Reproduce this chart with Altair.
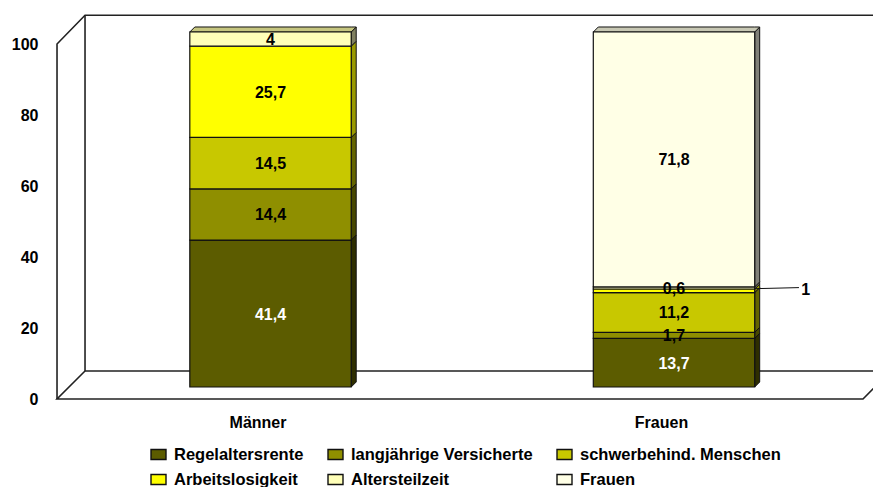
import altair as alt
import pandas as pd

# ---- chart values ----
categories = ["Männer", "Frauen"]
series = ["Regelaltersrente", "langjährige Versicherte", "schwerbehind. Menschen",
          "Arbeitslosigkeit", "Altersteilzeit", "Frauen"]
maenner = [41.4, 14.4, 14.5, 25.7, 4, None]
frauen = [13.7, 1.7, 11.2, 1, 0.6, 71.8]
face_colors = ["#5c5c00", "#8f8f00", "#c8c800", "#ffff00", "#ffffb8", "#ffffe6"]
side_colors = ["#2e2e00", "#474700", "#646400", "#999900", "#808060", "#808078"]
top_colors = ["#4a4a00", "#727200", "#a0a000", "#cccc00", "#c6c680", "#c8c8b4"]
label_colors = ["white", "black", "black", "black", "black", "black"]
tick_values = [0, 20, 40, 60, 80, 100]

FONT = "Liberation Sans"
SIZE = 16

# depth of the pseudo-3D projection, in scale units
px_x = 403.5   # pixels per category
px_y = 3.55    # pixels per value unit
BAR_HALF = 0.2
DX, DV = 5 / px_x, 5 / px_y

bars, sides, tops, labels = [], [], [], []
for ci, vals in enumerate([maenner, frauen]):
    lo = 0.0
    last = None
    for si, v in enumerate(vals):
        if v is None:
            continue
        hi = lo + v
        left, right = ci - BAR_HALF, ci + BAR_HALF
        bars.append(dict(cat=categories[ci], s=series[si], x=left, x2=right, y=lo, y2=hi))
        key = f"{ci}-{si}"
        sides.append(dict(k=key, c=side_colors[si], x=right, y=lo, y2=hi))
        sides.append(dict(k=key, c=side_colors[si], x=right + DX, y=lo + DV, y2=hi + DV))
        labels.append(dict(x=ci, y=(lo + hi) / 2, t=str(v).replace(".", ","), c=label_colors[si], small=0))
        lo, last = hi, si
    key = f"t{ci}"
    c = top_colors[last]
    for x, y, y2 in [(left, lo, lo), (left + DX, lo, lo + DV), (right, lo, lo + DV), (right + DX, lo + DV, lo + DV)]:
        tops.append(dict(k=key, c=c, x=x, y=y, y2=y2))

# frame of the 3D box
fl, fr, bl, br = -0.5291, 1.4684, -0.4597, 1.5377
fb, ft, bb, bt = -3.38, 96.62, 4.5, 104.7
paths = {
    "wall": [(fl, fb), (fl, ft), (bl, bt), (br, bt)],
    "backv": [(bl, bt), (bl, bb), (br, bb)],
    "diag": [(bl, bb), (fl, fb), (fr, fb), (br, bb)],
}
frame = [dict(p=p, o=i, x=x, y=y) for p, pts in paths.items() for i, (x, y) in enumerate(pts)]

# callout for the value 1 beside the Frauen bar
callout_x = [1 + BAR_HALF + DX * 0.2, 1.3097]
callout_y = [27.7, 28.0]
callout = [dict(x=x, y=y) for x, y in zip(callout_x, callout_y)]
callout_label = [dict(x=1.3265, y=27.5, t="1")]
labels = [l for l in labels if not (l["x"] == 1 and l["t"] == "1")]

xs = alt.Scale(domain=[-0.5465, 1.4932], nice=False, zero=False)
ys = alt.Scale(domain=[-3.662, 106.76], nice=False, zero=False)

X = alt.X("x:Q", scale=xs, title=None,
          axis=alt.Axis(values=[0, 1], domain=False, ticks=False, grid=False, labelFont=FONT,
                        labelFontSize=SIZE, labelFontWeight="bold", labelColor="black",
                        labelPadding=14, labelOffset=-13,
                        labelExpr=f"datum.value == 0 ? '{categories[0]}' : '{categories[1]}'"))
Y = alt.Y("y:Q", scale=ys, title=None,
          axis=alt.Axis(values=tick_values, domain=False, ticks=False, grid=False, labelFont=FONT,
                        labelFontSize=SIZE, labelFontWeight="bold", labelColor="black",
                        labelPadding=12, labelOffset=13))

frame_l = alt.Chart(pd.DataFrame(frame)).mark_line(clip=True, color="#222222", strokeWidth=1.6).encode(
    x=X, y=Y, detail="p:N", order="o:Q")

side_l = alt.Chart(pd.DataFrame(sides)).mark_area(stroke="#111111", strokeWidth=1).encode(
    x=alt.X("x:Q", scale=xs), y=alt.Y("y:Q", scale=ys), y2="y2:Q", detail="k:N",
    fill=alt.Fill("c:N", scale=None))
top_l = alt.Chart(pd.DataFrame(tops)).mark_area(stroke="#111111", strokeWidth=1).encode(
    x=alt.X("x:Q", scale=xs), y=alt.Y("y:Q", scale=ys), y2="y2:Q", detail="k:N",
    fill=alt.Fill("c:N", scale=None))

bar_l = alt.Chart(pd.DataFrame(bars)).mark_rect(stroke="#111111", strokeWidth=1.2).encode(
    x=alt.X("x:Q", scale=xs), x2="x2:Q", y=alt.Y("y:Q", scale=ys), y2="y2:Q",
    fill=alt.Fill("s:N", scale=alt.Scale(domain=series, range=face_colors),
                  legend=alt.Legend(title=None, orient="none", legendX=100, legendY=438,
                                    direction="horizontal",
                                    columns=3, columnPadding=21, rowPadding=8,
                                    symbolType="M-1,-0.67H1V0.67H-1Z", symbolSize=225,
                                    symbolStrokeColor="#111111", symbolStrokeWidth=1.4,
                                    labelFont=FONT, labelFontSize=16.5, labelFontWeight="bold",
                                    labelColor="black", labelOffset=7, labelLimit=300)))

text_l = alt.Chart(pd.DataFrame(labels)).mark_text(
    font=FONT, fontSize=SIZE, fontWeight="bold", baseline="middle", align="center", dy=1).encode(
    x=alt.X("x:Q", scale=xs), y=alt.Y("y:Q", scale=ys), text="t:N",
    color=alt.Color("c:N", scale=None))

call_l = alt.Chart(pd.DataFrame(callout)).mark_line(color="#111111", strokeWidth=1).encode(
    x=alt.X("x:Q", scale=xs), y=alt.Y("y:Q", scale=ys))
call_t = alt.Chart(pd.DataFrame(callout_label)).mark_text(
    font=FONT, fontSize=SIZE, fontWeight="bold", baseline="middle", align="center", dy=1).encode(
    x=alt.X("x:Q", scale=xs), y=alt.Y("y:Q", scale=ys), text="t:N")

chart = alt.layer(frame_l, side_l, top_l, bar_l, text_l, call_l, call_t).properties(
    width=823, height=392, background="white",
    padding={"left": 42, "top": 0, "right": 0, "bottom": 87},
    autosize=alt.AutoSizeParams(type="none"),
).configure_view(stroke=None)

chart.save("out.html", embed_options={"renderer": "svg", "actions": False})
